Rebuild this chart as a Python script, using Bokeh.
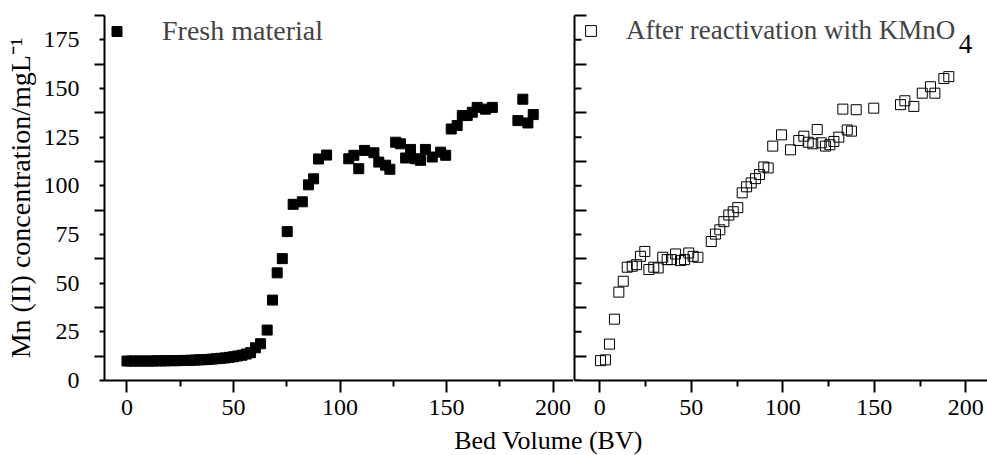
from bokeh.plotting import figure
from bokeh.models import Range1d, FixedTicker, Legend, LegendItem, Label
from bokeh.layouts import column, row
from bokeh.embed import file_html
from bokeh.resources import INLINE

# ---------------- data ----------------
fresh_bv = [0, 2, 4, 6, 8, 10, 12, 14, 16, 18, 20, 22, 24, 26, 28, 30, 32, 34, 36, 38, 40,
            42, 44, 46, 48, 50, 52, 54, 56,
            58.0, 60.3, 62.7, 65.8, 68.3, 70.5, 72.9, 75.2, 78.0, 82.3, 85.2, 87.6, 89.9, 93.7,
            104.1, 106.5, 108.8, 111.5, 115.9, 118.2, 121.4, 123.4, 126.1, 128.4, 130.8, 133.1,
            135.5, 137.8, 140.1, 143.3, 147.2, 149.6,
            152.2, 155.0, 157.4, 159.7, 162.1, 164.4, 168.3, 171.5,
            183.5, 185.8, 188.2, 190.7]
fresh_mn = [10.0, 10.0, 10.0, 10.0, 10.0, 10.0, 10.0, 10.1, 10.1, 10.1, 10.2, 10.2, 10.2, 10.3,
            10.3, 10.4, 10.5, 10.6, 10.7, 10.8, 11.0,
            11.2, 11.4, 11.6, 11.9, 12.2, 12.6, 13.0, 13.6,
            14.3, 16.8, 18.9, 25.9, 41.3, 55.3, 62.6, 76.5, 90.5, 91.8, 100.5, 103.6, 113.8, 115.8,
            113.9, 115.7, 108.8, 118.2, 117.0, 112.2, 110.6, 108.5, 122.4, 121.6, 114.3, 118.7,
            113.9, 113.1, 118.7, 114.8, 117.3, 115.7,
            129.2, 131.0, 136.1, 136.1, 137.8, 140.3, 139.4, 140.3,
            133.5, 144.5, 132.3, 136.6]

react_bv = [0.4, 3.1, 5.3, 8.0, 10.4, 12.8, 15.0, 17.7, 20.1, 22.2, 24.6, 26.8, 29.5, 31.9,
            34.4, 36.8, 39.2, 41.4, 44.1, 46.3, 48.6, 51.0, 53.6, 60.9, 63.2, 65.6, 67.8, 70.5,
            72.9, 75.4, 77.8, 80.2, 82.7, 85.1, 87.3, 89.6, 92.0, 94.5, 99.3, 104.2, 108.7,
            111.5, 113.9, 116.4, 118.8, 121.0, 123.3, 125.7, 127.9, 130.6, 132.8, 135.2, 137.5,
            140.1, 149.7, 164.3, 166.7, 171.6, 176.2, 180.7, 183.1, 188.0, 190.7]
react_mn = [10.2, 10.6, 18.7, 31.5, 45.4, 51.0, 58.2, 58.7, 59.5, 63.8, 66.3, 57.0, 58.2, 57.8,
            63.3, 62.1, 62.1, 65.0, 61.6, 62.1, 65.5, 63.8, 63.3, 71.4, 75.2, 77.4, 81.6, 85.0,
            86.7, 88.8, 96.4, 99.5, 101.5, 103.7, 105.8, 109.7, 109.2, 120.4, 126.2, 118.5, 123.3,
            125.5, 122.4, 121.6, 128.9, 122.1, 120.4, 121.1, 122.8, 125.0, 139.4, 128.7, 128.1,
            139.1, 139.9, 141.7, 143.7, 140.8, 147.6, 150.9, 147.6, 155.1, 156.1]

x_ticks = [0, 50, 100, 150, 200]
x_minor_ticks = [25, 75, 125, 175]
y_ticks = [0, 25, 50, 75, 100, 125, 150, 175]
y_minor_ticks = [12.5, 37.5, 62.5, 87.5, 112.5, 137.5, 162.5, 187.5]

label_fresh = "Fresh material"
label_react = "After reactivation with KMnO"
label_react_sub = "4"
y_title = "Mn (II) concentration/mgL\u207b\u00b9"
x_title = "Bed Volume (BV)"

FONT = "Liberation Serif"

Y0, Y1 = 0, 187.5
X1_START, X1_END = -10.56, 209.6
X2_START, X2_END = -13.83, 211.85


def style_x(ax):
    ax.ticker = FixedTicker(ticks=x_ticks, minor_ticks=x_minor_ticks)
    ax.axis_line_width = 2
    ax.axis_line_color = "black"
    ax.major_tick_line_width = 2
    ax.minor_tick_line_width = 2
    ax.major_tick_out = 12
    ax.major_tick_in = 0
    ax.minor_tick_out = 6
    ax.minor_tick_in = 0
    ax.major_label_text_font = FONT
    ax.major_label_text_font_size = "24px"
    ax.major_label_text_color = "black"
    ax.major_label_standoff = 7


# ---------------- left panel ----------------
p1 = figure(width=573, height=427,
            x_range=Range1d(X1_START, X1_END), y_range=Range1d(Y0, Y1),
            output_backend="svg", toolbar_location=None,
            min_border_left=104, min_border_right=0, min_border_top=15, min_border_bottom=47)
p1.outline_line_color = None
p1.grid.visible = False
style_x(p1.xaxis[0])
ya = p1.yaxis[0]
ya.ticker = FixedTicker(ticks=y_ticks, minor_ticks=y_minor_ticks)
ya.axis_line_width = 2
ya.major_tick_line_width = 2
ya.minor_tick_line_width = 2
ya.major_tick_out = 5
ya.major_tick_in = 0
ya.minor_tick_out = 10
ya.minor_tick_in = 0
ya.major_label_text_font = FONT
ya.major_label_text_font_size = "24px"
ya.major_label_text_color = "black"
ya.major_label_standoff = 15
ya.axis_label = y_title
ya.axis_label_text_font = FONT
ya.axis_label_text_font_size = "28px"
ya.axis_label_text_font_style = "normal"
ya.axis_label_text_color = "black"
ya.axis_label_standoff = 5

r1 = p1.scatter(fresh_bv, fresh_mn, marker="square", size=10,
                fill_color="black", line_color="black", line_width=1)
leg1 = Legend(items=[LegendItem(label=label_fresh, renderers=[r1])],
              location="top_left", margin=0, padding=0,
              glyph_width=25, glyph_height=30, label_standoff=33,
              background_fill_alpha=0, border_line_alpha=0,
              label_text_font=FONT, label_text_font_size="28px")
p1.add_layout(leg1)

# ---------------- right panel ----------------
p2 = figure(width=414, height=427,
            x_range=Range1d(X2_START, X2_END), y_range=Range1d(Y0, Y1),
            output_backend="svg", toolbar_location=None,
            min_border_left=1, min_border_right=0, min_border_top=15, min_border_bottom=47)
p2.outline_line_color = None
p2.grid.visible = False
style_x(p2.xaxis[0])
yb = p2.yaxis[0]
# long inward ticks from the axis; short inward ticks at the labelled values drawn as dashes
yb.ticker = FixedTicker(ticks=[], minor_ticks=y_minor_ticks)
yb.axis_line_width = 2
yb.minor_tick_line_width = 2
yb.major_tick_out = 0
yb.major_tick_in = 0
yb.minor_tick_out = 0
yb.minor_tick_in = 12
yb.major_label_standoff = 0
yb.axis_label_standoff = 0
p2.scatter([X2_START] * len(y_ticks), y_ticks, marker="dash", size=14,
           line_color="black", line_width=2)

r2 = p2.scatter(react_bv, react_mn, marker="square", size=10,
                fill_color=None, line_color="black", line_width=1)
leg2 = Legend(items=[LegendItem(label=label_react, renderers=[r2])],
              location="top_left", margin=0, padding=0,
              glyph_width=33, glyph_height=27, label_standoff=19,
              background_fill_alpha=0, border_line_alpha=0,
              label_text_font=FONT, label_text_font_size="27px")
p2.add_layout(leg2)
p2.add_layout(Label(x=391, y=337, x_units="screen", y_units="screen", text=label_react_sub,
                    text_align="center", text_baseline="middle",
                    text_font=FONT, text_font_size="27px", text_color="black"))

# ---------------- shared x title ----------------
p3 = figure(width=987, height=28, x_range=Range1d(0, 987), y_range=Range1d(0, 28),
            output_backend="svg", toolbar_location=None,
            x_axis_location=None, y_axis_location=None, min_border=0)
p3.outline_line_color = None
p3.grid.visible = False
p3.add_layout(Label(x=548, y=15, text=x_title, text_align="center", text_baseline="middle",
                    text_font=FONT, text_font_size="26px", text_color="black"))

layout = column(row(p1, p2), p3)
open("out.html", "w").write(file_html(layout, INLINE))
